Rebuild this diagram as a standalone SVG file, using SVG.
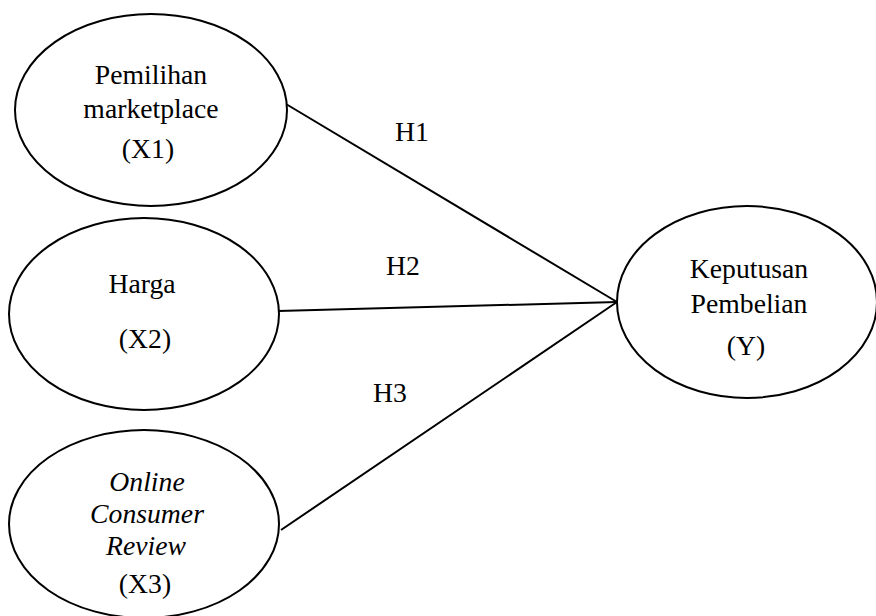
<svg xmlns="http://www.w3.org/2000/svg" width="876" height="616" viewBox="0 0 876 616">
<style>
.n{fill:#fff;stroke:#000;stroke-width:2}
.c line{stroke:#000;stroke-width:2}
text{font-family:"Liberation Serif","Times New Roman",serif;font-size:27.7px;fill:#000;text-anchor:middle}
.i{font-style:italic}
</style>
<rect width="876" height="616" fill="#fff"/>
<g id="connectors" class="c">
<line x1="286" y1="104" x2="617" y2="302"/>
<line x1="278" y1="311" x2="617" y2="302"/>
<line x1="281" y1="530" x2="617" y2="302"/>
</g>
<g id="labels">
<text x="412" y="141">H1</text>
<text x="403" y="275">H2</text>
<text x="390" y="402">H3</text>
</g>
<g id="x1">
<ellipse class="n" cx="151" cy="110" rx="136" ry="96"/>
<text x="151" y="84">Pemilihan</text>
<text x="151" y="118">marketplace</text>
<text x="148" y="158">(X1)</text>
</g>
<g id="x2">
<ellipse class="n" cx="144" cy="314" rx="135" ry="96"/>
<text x="142" y="293">Harga</text>
<text x="145" y="348">(X2)</text>
</g>
<g id="x3">
<ellipse class="n" cx="144" cy="524" rx="135" ry="94"/>
<text class="i" x="147" y="491">Online</text>
<text class="i" x="147" y="523">Consumer</text>
<text class="i" x="146" y="555">Review</text>
<text x="145" y="593">(X3)</text>
</g>
<g id="y">
<ellipse class="n" cx="747" cy="302" rx="130" ry="96"/>
<text x="749" y="278">Keputusan</text>
<text x="749" y="313">Pembelian</text>
<text x="746" y="355">(Y)</text>
</g>
</svg>
